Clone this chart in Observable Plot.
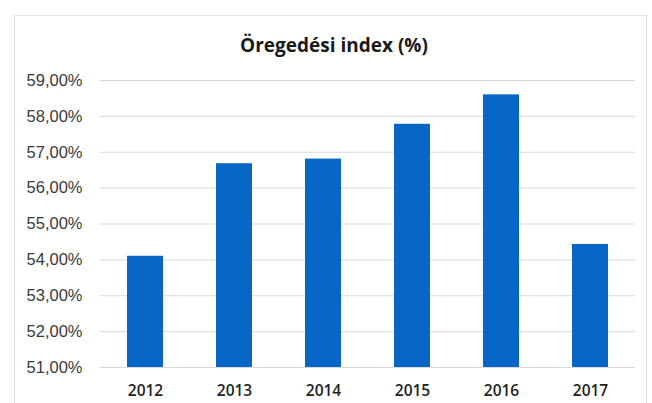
<!DOCTYPE html>
<html>
<head>
<meta charset="utf-8">
<script src="https://cdn.jsdelivr.net/npm/d3@7"></script>
<script src="https://cdn.jsdelivr.net/npm/@observablehq/plot@0.6"></script>
<style>
  html, body { margin: 0; padding: 0; background: #fff; }
  body { width: 652px; height: 403px; position: relative; overflow: hidden; font-family: "Liberation Sans", Arial, sans-serif; }
  #frame { position: absolute; left: 14px; top: 15px; width: 633px; height: 400px; border: 1px solid #e2e2e2; border-bottom: none; box-sizing: border-box; }
  #title { position: absolute; left: 0; top: 0; width: 668px; height: 60px; box-sizing: border-box; padding-top: 32px; text-align: center; font-family: "Open Sans", sans-serif; font-size: 19px; line-height: 26px; font-weight: bold; color: #1a1a1a; }
  #chart { position: absolute; left: 0; top: 60px; }
</style>
</head>
<body>
<div id="frame"></div>
<div id="title">Öregedési index (%)</div>
<div id="chart"></div>
<script>
const years = ["2012", "2013", "2014", "2015", "2016", "2017"];
const values = [54.10, 56.68, 56.81, 57.78, 58.60, 54.43];
const yTicks = [51, 52, 53, 54, 55, 56, 57, 58, 59];

const data = years.map((year, i) => ({year, value: values[i]}));
const yMin = yTicks[0];
const fmt = d => d.toFixed(2).replace(".", ",") + "%";

const chart = Plot.plot({
  width: 652,
  height: 343,
  marginTop: 20,
  marginBottom: 36,
  marginLeft: 100,
  marginRight: 17,
  style: { fontFamily: "'Liberation Sans', Arial, sans-serif", fontSize: "15px", color: "#333", background: "transparent" },
  x: { domain: years, paddingInner: 0.6, paddingOuter: 0.3, label: null },
  y: { domain: [yTicks[0], yTicks[yTicks.length - 1]], label: null },
  marks: [
    Plot.ruleY(yTicks, { stroke: "#d9d9d9", strokeWidth: 1 }),
    Plot.barY(data, { x: "year", y1: () => yMin, y2: "value", fill: "#0866c6" }),
    Plot.axisY({ ticks: yTicks, tickFormat: fmt, tickSize: 0, tickPadding: 18, fontSize: 16.5, fill: "#3a3a3a" }),
    Plot.axisX({ tickSize: 0, tickPadding: 17, fontSize: 15.5, fontFamily: "'Open Sans', sans-serif", fontWeight: 600, fill: "#222" })
  ]
});
document.getElementById("chart").appendChild(chart);
</script>
</body>
</html>
